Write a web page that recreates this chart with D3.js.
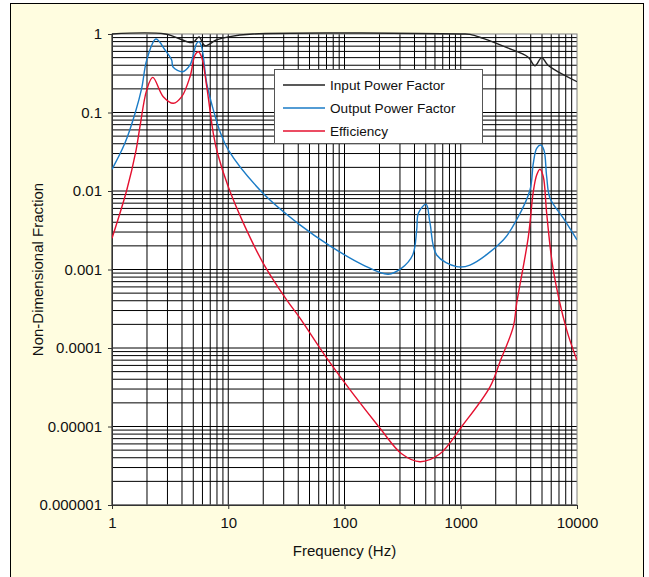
<!DOCTYPE html>
<html>
<head>
<meta charset="utf-8">
<script src="https://cdn.jsdelivr.net/npm/d3@7"></script>
<style>
  body { margin: 0; background: #fff; }
  svg { display: block; font-family: "Liberation Sans", Arial, sans-serif; }
</style>
</head>
<body>
<div id="chart-area"></div>
<script>
// Input power factor
const inputFreq = [1, 2.86, 4.94, 5.6, 6.3, 7.9, 10, 16.3, 1000, 1200, 1556, 2500, 3785, 4350, 4970, 5630, 10000];
const inputPF = [1, 1, 0.78, 0.92, 0.71, 0.84, 0.92, 1, 1, 0.99, 0.88, 0.67, 0.51, 0.394, 0.50, 0.40, 0.247];

// Output power factor
const outputFreq = [1, 1.29, 1.58, 1.8, 1.99, 2.39, 2.86, 3.26, 3.35, 4.06,
    4.69, 5.35, 5.6, 5.9, 6.53, 7.44, 8.5, 10, 20, 41.4,
    75, 145, 238, 310, 386, 418, 432, 503, 544, 621,
    922, 1200, 2323, 3027, 3942, 4207, 4500, 4870, 5200, 5485,
    5860, 7630, 10000];
const outputPF = [0.0189, 0.0405, 0.098, 0.203, 0.466, 0.863, 0.625, 0.466, 0.38, 0.331,
    0.403, 0.76, 0.80, 0.69, 0.235, 0.108, 0.057, 0.0333, 0.0093, 0.0037,
    0.0020, 0.00114, 0.00087, 0.00104, 0.00153, 0.0032, 0.0052, 0.0068, 0.0039, 0.00153,
    0.00109, 0.00114, 0.00238, 0.0043, 0.0103, 0.0225, 0.035, 0.0385, 0.033, 0.0152,
    0.0081, 0.0045, 0.00238];

// Efficiency
const effFreq = [1, 1.34, 1.61, 1.74, 1.99, 2.24, 2.76, 3.37, 3.98, 4.69,
    5.18, 5.52, 5.9, 6.53, 7.44, 8.1, 10, 13.5, 20, 31.8,
    41.4, 75, 202, 310, 446, 663, 1020, 1785, 2177, 2833,
    3027, 3813, 4207, 4500, 4805, 5130, 5485, 6250, 8150, 10000];
const efficiency = [0.0025, 0.0103, 0.033, 0.066, 0.194, 0.28, 0.159, 0.131, 0.159, 0.286,
    0.54, 0.595, 0.51, 0.213, 0.054, 0.03, 0.0113, 0.0039, 0.0012, 0.00041,
    0.00024, 6.5e-5, 9.5e-6, 4.5e-6, 3.56e-6, 4.5e-6, 1e-5, 3.2e-5, 6.7e-5, 1.87e-4,
    3.7e-4, 0.0026, 0.0098, 0.016, 0.0189, 0.0152, 0.0052, 9.9e-4, 1.7e-4, 7e-5];

const xTicks = [1, 10, 100, 1000, 10000];
const xTickLabels = ["1", "10", "100", "1000", "10000"];
const yTicks = [1, 0.1, 0.01, 0.001, 0.0001, 0.00001, 0.000001];
const yTickLabels = ["1", "0.1", "0.01", "0.001", "0.0001", "0.00001", "0.000001"];

const seriesNames = ["Input Power Factor", "Output Power Factor", "Efficiency"];
const seriesColors = ["#222222", "#1a7bc6", "#e4102f"];

const width = 649;
const height = 577;
const plot = {left: 112, right: 577, top: 34, bottom: 505};

const svg = d3.select("#chart-area")
    .append("svg")
    .attr("width", width)
    .attr("height", height);

// outer frame
svg.append("rect")
    .attr("x", 10.5).attr("y", 3.5)
    .attr("width", 633).attr("height", 600)
    .attr("fill", "#fffde0")
    .attr("stroke", "#000");

const x = d3.scaleLog().domain([1, 10000]).range([plot.left, plot.right]);
const y = d3.scaleLog().domain([0.000001, 1]).range([plot.bottom, plot.top]);

svg.append("rect")
    .attr("x", plot.left).attr("y", plot.top)
    .attr("width", plot.right - plot.left).attr("height", plot.bottom - plot.top)
    .attr("fill", "#fff");

// grid lines, 1..9 in every decade
const xGrid = [];
for (let d = 1; d < 10000; d *= 10) for (let k = 1; k <= 9; k++) xGrid.push(d * k);
const yGrid = [];
for (let d = 0.000001; d < 0.9; d *= 10) for (let k = 1; k <= 9; k++) yGrid.push(d * k);

const grid = svg.append("g");
grid.selectAll(".vg")
    .data(xGrid)
    .enter()
    .append("line")
    .attr("x1", d => x(d)).attr("x2", d => x(d))
    .attr("y1", plot.top).attr("y2", plot.bottom)
    .attr("stroke", "#000")
    .attr("stroke-width", 1);
grid.selectAll(".hg")
    .data(yGrid)
    .enter()
    .append("line")
    .attr("x1", plot.left).attr("x2", plot.right)
    .attr("y1", d => y(d)).attr("y2", d => y(d))
    .attr("stroke", "#000")
    .attr("stroke-width", 1);

// plot border: grey top/right
svg.append("rect")
    .attr("x", plot.left).attr("y", plot.top)
    .attr("width", plot.right - plot.left).attr("height", plot.bottom - plot.top)
    .attr("fill", "none")
    .attr("stroke", "#808080");

// axes
const xAxis = d3.axisBottom(x)
    .tickValues(xTicks)
    .tickFormat((d, i) => xTickLabels[i])
    .tickSize(4)
    .tickPadding(8);
const gx = svg.append("g")
    .attr("transform", "translate(0," + plot.bottom + ")")
    .call(xAxis);

const yAxis = d3.axisLeft(y)
    .tickValues(yTicks)
    .tickFormat((d, i) => yTickLabels[i])
    .tickSize(4)
    .tickPadding(6);
const gy = svg.append("g")
    .attr("transform", "translate(" + plot.left + ",0)")
    .call(yAxis);

[gx, gy].forEach(g => {
    g.select(".domain").attr("stroke", "#333");
    g.selectAll(".tick line").attr("stroke", "#333");
    g.selectAll("text")
        .attr("font-family", "Liberation Sans, Arial, sans-serif")
        .attr("font-size", "15px")
        .attr("fill", "#111");
});

// axis titles
svg.append("text")
    .attr("x", (plot.left + plot.right) / 2)
    .attr("y", 556)
    .attr("text-anchor", "middle")
    .attr("font-size", "15px")
    .attr("fill", "#111")
    .text("Frequency (Hz)");

svg.append("text")
    .attr("transform", "translate(43," + (plot.top + plot.bottom) / 2 + ") rotate(-90)")
    .attr("text-anchor", "middle")
    .attr("font-size", "15px")
    .attr("fill", "#111")
    .text("Non-Dimensional Fraction");

// curves
const line = d3.line()
    .x(d => x(d[0]))
    .y(d => y(d[1]))
    .curve(d3.curveCatmullRom.alpha(0.5));

const series = [
    d3.zip(inputFreq, inputPF),
    d3.zip(outputFreq, outputPF),
    d3.zip(effFreq, efficiency)
];

svg.append("defs").append("clipPath").attr("id", "clip")
    .append("rect")
    .attr("x", plot.left).attr("y", plot.top - 2)
    .attr("width", plot.right - plot.left).attr("height", plot.bottom - plot.top + 2);

svg.append("g")
    .attr("clip-path", "url(#clip)")
    .selectAll("path")
    .data(series)
    .enter()
    .append("path")
    .attr("d", line)
    .attr("fill", "none")
    .attr("stroke", (d, i) => seriesColors[i])
    .attr("stroke-width", 1.4);

// legend
const legend = svg.append("g");
legend.append("rect")
    .attr("x", 274.5).attr("y", 69.5)
    .attr("width", 208).attr("height", 74)
    .attr("fill", "#fff")
    .attr("stroke", "#555");

legend.selectAll("legendLines")
    .data(seriesNames)
    .enter()
    .append("line")
    .attr("x1", 283).attr("x2", 325)
    .attr("y1", (d, i) => 85 + i * 23)
    .attr("y2", (d, i) => 85 + i * 23)
    .attr("stroke", (d, i) => seriesColors[i])
    .attr("stroke-width", 1.4);

legend.selectAll("legendLabels")
    .data(seriesNames)
    .enter()
    .append("text")
    .attr("x", 330)
    .attr("y", (d, i) => 85 + i * 23)
    .attr("dy", "0.35em")
    .attr("font-size", "13.6px")
    .attr("fill", "#111")
    .text(d => d);
</script>
</body>
</html>
